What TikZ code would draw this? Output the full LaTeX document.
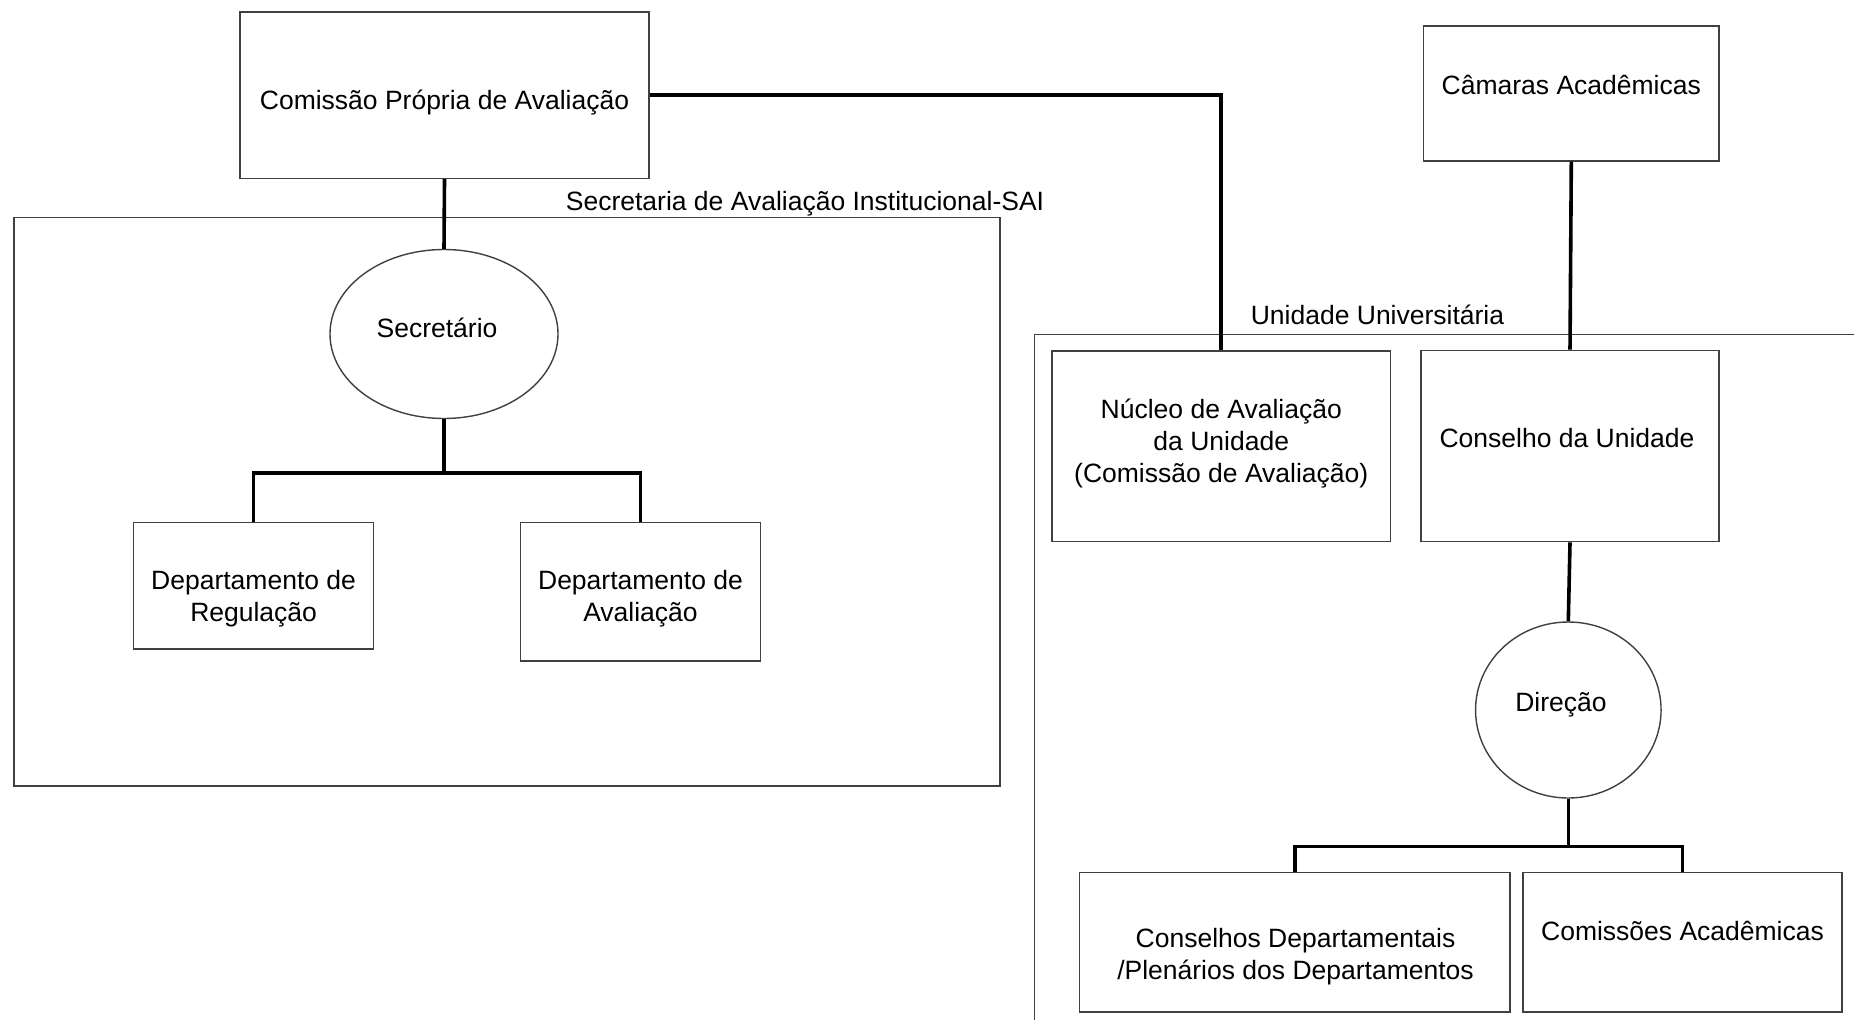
\documentclass[tikz,border=0pt]{standalone}
\usepackage{fontspec}
\setmainfont{Liberation Sans}
\usetikzlibrary{shapes.geometric}
\tikzset{
  box/.style={draw=black!75, line width=1.4pt, rectangle, inner sep=0pt},
  oval/.style={draw=black!75, line width=1.4pt, ellipse, inner sep=0pt},
  txt/.style={inner sep=0pt, align=center, font=\fontsize{26.5}{32}\selectfont},
  conn/.style={draw=black, line width=3.6pt},
  frame/.style={draw=black!75, line width=1.4pt}
}
\begin{document}
\begin{tikzpicture}[x=1pt,y=-1pt]
\useasboundingbox[fill=white] (0,0) rectangle (1854,1020);

% group frames
\node[box, minimum width=986pt, minimum height=568.5pt] (sai) at (507,501.75) {};
\node[txt] (sailbl) at (805,203.5) {Secretaria de Avaliação Institucional-SAI};
\coordinate (uubl) at (1034.6,1020);
\coordinate (uutl) at (1034.6,334.6);
\coordinate (uutr) at (1854,334.6);
\draw[frame] (uubl) -- (uutl) -- (uutr);
\node[txt] (uulbl) at (1377.5,314.5) {Unidade Universitária};

% boxes
\node[box, minimum width=409pt, minimum height=166.5pt] (cpa) at (444.5,95.25) {};
\node[txt] at (444.5,102.5) {Comissão Própria de Avaliação};

\node[oval, minimum width=228pt, minimum height=169pt] (sec) at (444,334) {};
\node[txt] at (437,328) {Secretário};

\node[box, minimum width=240pt, minimum height=126.5pt] (dreg) at (253.6,585.8) {};
\node[txt] at (253.6,598.5) {Departamento de\\Regulação};

\node[box, minimum width=240pt, minimum height=138.5pt] (daval) at (640.5,591.8) {};
\node[txt] at (640.5,598.5) {Departamento de\\Avaliação};

\node[box, minimum width=338.5pt, minimum height=190.5pt] (nuc) at (1221.25,446.25) {};
\node[txt] at (1221.25,444) {Núcleo de Avaliação\\da Unidade\\(Comissão de Avaliação)};

\node[box, minimum width=295.5pt, minimum height=135pt] (cam) at (1571.3,93.5) {};
\node[txt] at (1571.3,85) {Câmaras Acadêmicas};

\node[box, minimum width=298pt, minimum height=191.5pt] (cons) at (1570,446) {};
\node[txt] at (1567,438.5) {Conselho da Unidade};

\node[oval, minimum width=185.5pt, minimum height=176pt] (dir) at (1568.3,710) {};
\node[txt] at (1561,704.5) {Direção};

\node[box, minimum width=430.5pt, minimum height=139.5pt] (cdep) at (1294.8,942.3) {};
\node[txt] at (1295.5,956.5) {Conselhos Departamentais\\/Plenários dos Departamentos};

\node[box, minimum width=319pt, minimum height=139.5pt] (cac) at (1682.5,942.3) {};
\node[txt] at (1682.5,930.5) {Comissões Acadêmicas};

% junction points
\coordinate (j1) at (444,473);
\coordinate (j2) at (1568.3,846.6);

% connectors
\draw[conn] (cpa.east) -| (nuc.north);
\draw[conn] (cpa.south) -- (sec.north);
\draw[conn] (sec.south) -- (j1);
\draw[conn] (dreg.north) |- (j1) -| (daval.north);
\draw[conn] (cam.south) -- (cons.north);
\draw[conn] (cons.south) -- (dir.north);
\draw[conn] (dir.south) -- (j2);
\draw[conn] (cdep.north) |- (j2) -| (cac.north);
\end{tikzpicture}
\end{document}
